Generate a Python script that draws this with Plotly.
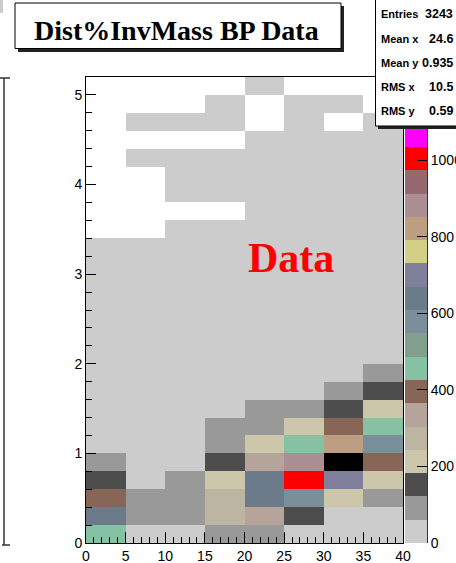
import plotly.graph_objects as go

# ---------------- data ----------------
x_centers = [2.5, 7.5, 12.5, 17.5, 22.5, 27.5, 32.5, 37.5]
y_centers = [0.1, 0.3, 0.5, 0.7, 0.9, 1.1, 1.3, 1.5, 1.7, 1.9, 2.1, 2.3, 2.5,
             2.7, 2.9, 3.1, 3.3, 3.5, 3.7, 3.9, 4.1, 4.3, 4.5, 4.7, 4.9, 5.1]
N = None
counts = [
    [455, 22, 35, 95, 88, 48, 40, 30],          # 0.0-0.2
    [640, 92, 98, 268, 335, 150, 45, 38],       # 0.2-0.4
    [398, 96, 101, 275, 645, 578, 210, 93],     # 0.4-0.6
    [148, 52, 89, 215, 636, 1004, 702, 208],    # 0.6-0.8
    [94, 41, 56, 152, 330, 884, 1190, 396],     # 0.8-1.0
    [47, 36, 58, 97, 212, 462, 821, 572],       # 1.0-1.2
    [33, 29, 44, 90, 86, 214, 392, 452],        # 1.2-1.4
    [25, 21, 32, 54, 91, 99, 149, 216],         # 1.4-1.6
    [18, 16, 24, 38, 52, 58, 95, 155],          # 1.6-1.8
    [14, 12, 17, 27, 39, 46, 57, 92],           # 1.8-2.0
    [10, 9, 13, 21, 30, 34, 41, 48],            # 2.0-2.2
    [8, 7, 11, 17, 25, 29, 33, 39],             # 2.2-2.4
    [7, 6, 9, 14, 21, 24, 28, 31],              # 2.4-2.6
    [5, 5, 8, 12, 17, 20, 23, 26],              # 2.6-2.8
    [4, 4, 6, 10, 14, 17, 19, 21],              # 2.8-3.0
    [3, 3, 5, 8, 11, 14, 16, 17],               # 3.0-3.2
    [2, 2, 4, 6, 9, 11, 13, 14],                # 3.2-3.4
    [N, N, 3, 5, 7, 9, 11, 12],                 # 3.4-3.6
    [N, N, N, N, 5, 6, 8, 9],                   # 3.6-3.8
    [N, N, 2, 3, 4, 6, 7, 8],                   # 3.8-4.0
    [N, N, 2, 2, 4, 5, 6, 7],                   # 4.0-4.2
    [N, 1, 1, 2, 3, 4, 5, 6],                   # 4.2-4.4
    [N, N, N, N, 2, 3, 4, 5],                   # 4.4-4.6
    [N, 1, 1, 1, N, 2, N, 3],                   # 4.6-4.8
    [N, N, N, 1, N, 2, 1, N],                   # 4.8-5.0
    [N, N, N, N, 1, N, N, N],                   # 5.0-5.2
]
x_ticks = [0, 5, 10, 15, 20, 25, 30, 35, 40]
y_ticks = [0, 1, 2, 3, 4, 5]
z_ticks = [0, 200, 400, 600, 800, 1000]
z_max = 1218
n_levels = 20
palette_colors = ["#cccccc", "#999999", "#4d4d4d", "#ccc7ab", "#bcb5a1",
                  "#b6a49b", "#876657", "#85c2a3", "#829e8c", "#7a8f99",
                  "#6b7b89", "#80809c", "#d4cf87", "#bd9e82", "#ab8f94",
                  "#946970", "#ff0000", "#ff00ff", "#00ff00", "#000000"]

title_text = "Dist%InvMass BP Data"
stats_labels = ["Entries", "Mean x", "Mean y", "RMS x", "RMS y"]
stats_values = ["3243", "24.6", "0.935", "10.5", "0.59"]   # visible part of the stats

# ---------------- layout helpers ----------------
W, H = 456, 563
L, R, T, B = 86, 427, 77, 543          # plot area (incl. palette) in px
FRAME_R = 403
PAL_L = 405


def px(xp):
    return (xp - L) / (R - L)


def py(yp):
    return (B - yp) / (B - T)


colorscale = []
for k, c in enumerate(palette_colors):
    colorscale.append([k / n_levels, c])
    colorscale.append([(k + 1) / n_levels, c])

fig = go.Figure()
fig.add_trace(go.Heatmap(
    x=x_centers, y=y_centers, z=counts, zmin=0, zmax=z_max,
    colorscale=colorscale, showscale=False, hoverongaps=False,
    xaxis="x", yaxis="y"))

lev_w = z_max / n_levels
pal_y = [lev_w * (k + 0.5) for k in range(n_levels)]
fig.add_trace(go.Heatmap(
    x=[0], y=pal_y, z=[[v] for v in pal_y], zmin=0, zmax=z_max,
    colorscale=colorscale, showscale=False, xaxis="x2", yaxis="y2"))

tickfont = dict(family="Liberation Sans, Arial", size=14, color="black")
fig.update_layout(
    template="none",
    width=W, height=H, autosize=False,
    margin=dict(l=L, r=W - R, t=T, b=H - B, pad=0, autoexpand=False),
    paper_bgcolor="white", plot_bgcolor="white",
    showlegend=False,
    xaxis=dict(domain=[0, px(FRAME_R)], range=[0, 40], tickvals=x_ticks,
               ticks="inside", ticklen=11, tickwidth=1, tickcolor="black",
               minor=dict(dtick=1, ticks="inside", ticklen=6, tickcolor="black", tickwidth=1),
               showline=True, mirror=True, linecolor="black", linewidth=1,
               showgrid=False, zeroline=False, tickfont=tickfont, anchor="y",
               automargin=False),
    yaxis=dict(domain=[0, 1], range=[0, 5.2], tickvals=y_ticks,
               ticks="inside", ticklen=10, tickwidth=1, tickcolor="black",
               minor=dict(dtick=0.2, ticks="inside", ticklen=6, tickcolor="black", tickwidth=1),
               showline=True, mirror=True, linecolor="black", linewidth=1,
               showgrid=False, zeroline=False, tickfont=tickfont, anchor="x",
               automargin=False),
    xaxis2=dict(domain=[px(PAL_L), 1], range=[-0.5, 0.5], visible=False, anchor="y2",
                automargin=False),
    yaxis2=dict(domain=[0, 1], range=[0, z_max], tickvals=z_ticks, side="right",
                ticks="inside", ticklen=10, tickwidth=1, tickcolor="black",
                showline=True, linecolor="#333333", linewidth=1,
                showgrid=False, zeroline=False, tickfont=tickfont, anchor="x2",
                automargin=False),
)

shapes = []
# title box with shadow
shapes.append(dict(type="rect", xref="paper", yref="paper", x0=px(18), x1=px(344),
                   y0=py(52), y1=py(6), fillcolor="#222222", line=dict(width=0), layer="above"))
shapes.append(dict(type="rect", xref="paper", yref="paper", x0=px(15), x1=px(341),
                   y0=py(48.5), y1=py(3), fillcolor="white", line=dict(color="black", width=1), layer="above"))
# stats box with shadow
shapes.append(dict(type="rect", xref="paper", yref="paper", x0=px(378), x1=px(480),
                   y0=py(129), y1=py(-4), fillcolor="#222222", line=dict(width=0), layer="above"))
shapes.append(dict(type="rect", xref="paper", yref="paper", x0=px(375.5), x1=px(477),
                   y0=py(126), y1=py(-5), fillcolor="white", line=dict(color="black", width=1), layer="above"))
# left edge fragment
shapes.append(dict(type="line", xref="paper", yref="paper", x0=px(4), x1=px(4),
                   y0=py(545), y1=py(78), line=dict(color="#333333", width=1.5), layer="above"))
shapes.append(dict(type="line", xref="paper", yref="paper", x0=px(0), x1=px(10),
                   y0=py(78), y1=py(78), line=dict(color="#333333", width=1.5), layer="above"))
shapes.append(dict(type="line", xref="paper", yref="paper", x0=px(2), x1=px(10),
                   y0=py(545), y1=py(545), line=dict(color="#333333", width=1.5), layer="above"))
shapes.append(dict(type="rect", xref="paper", yref="paper", x0=px(0), x1=px(3),
                   y0=py(13), y1=py(0), fillcolor="#cccccc", line=dict(width=0), layer="above"))
fig.update_layout(shapes=shapes)

ann = []
ann.append(dict(text=title_text, xref="paper", yref="paper", x=px(176), y=py(30),
                xanchor="center", yanchor="middle", showarrow=False,
                font=dict(family="Liberation Serif, Times New Roman", size=28, color="black", weight="bold")))
ann.append(dict(text="Data", xref="paper", yref="paper", x=px(291), y=py(258),
                xanchor="center", yanchor="middle", showarrow=False,
                font=dict(family="Liberation Serif, Times New Roman", size=42, color="#ff0000", weight="bold")))
stat_y = [14, 39, 63, 87, 111]
for lab, val, yy in zip(stats_labels, stats_values, stat_y):
    ann.append(dict(text=lab, xref="paper", yref="paper", x=px(379), y=py(yy),
                    xanchor="left", yanchor="middle", showarrow=False,
                    font=dict(family="Liberation Sans, Arial", size=11, color="black", weight="bold")))
    ann.append(dict(text=val, xref="paper", yref="paper", x=px(455), y=py(yy),
                    xanchor="right", yanchor="middle", showarrow=False,
                    font=dict(family="Liberation Sans, Arial", size=12.5, color="black", weight="bold")))
fig.update_layout(annotations=ann)

fig.write_html("out.html", config={"displayModeBar": False},
               post_script="document.body.style.margin='0';document.body.style.overflow='hidden';")
